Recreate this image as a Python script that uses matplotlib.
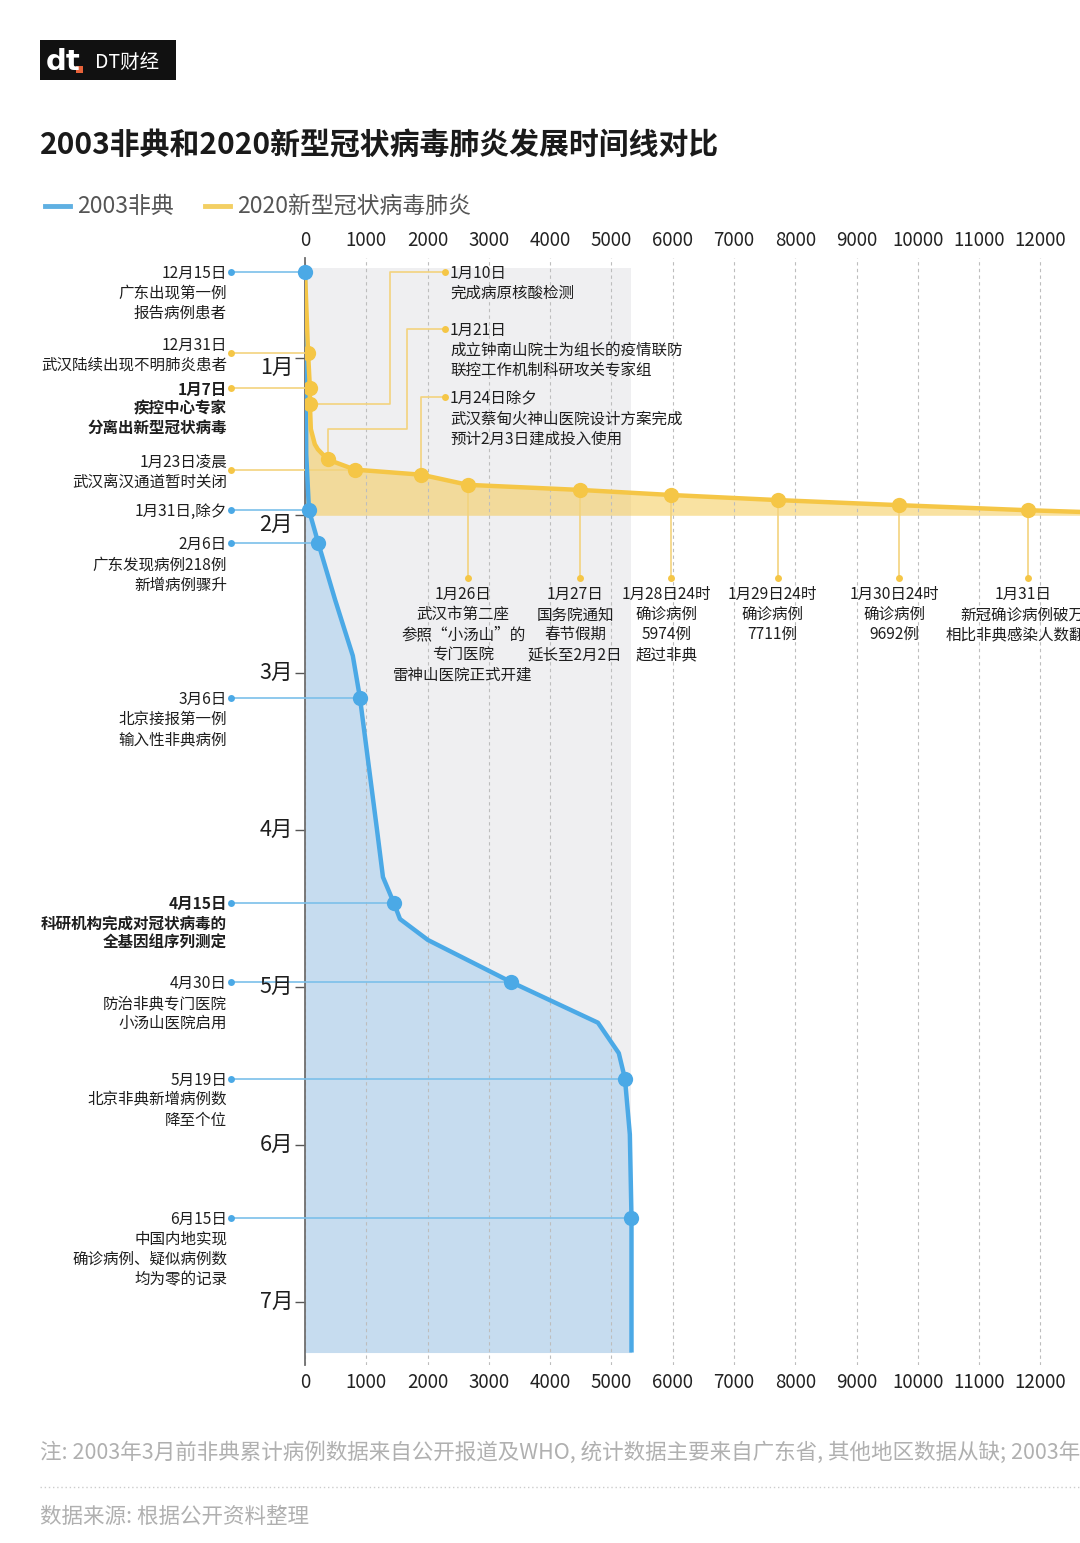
import calendar
import matplotlib
matplotlib.use('Agg')
import matplotlib.pyplot as plt
from matplotlib.patches import Rectangle
from matplotlib.lines import Line2D

plt.rcParams['font.family'] = ['Noto Sans CJK SC', 'DejaVu Sans']

# ---- 数据 ----
# 2003 非典累计病例
sars_dates = ['2002-12-15', '2003-01-20', '2003-01-31', '2003-02-06', '2003-02-16',
              '2003-02-26', '2003-03-06', '2003-04-01', '2003-04-10', '2003-04-15',
              '2003-04-18', '2003-04-22', '2003-04-30', '2003-05-08', '2003-05-14',
              '2003-05-19', '2003-05-30', '2003-06-15', '2003-07-11']
sars_cases = [0, 20, 65, 218, 490, 780, 897, 1175, 1272, 1452,
              1550, 2006, 3360, 4780, 5120, 5220, 5300, 5327, 5327]

# 2020 新型冠状病毒肺炎累计确诊
ncov_dates = ['2019-12-15', '2019-12-31', '2020-01-07', '2020-01-10', '2020-01-15',
              '2020-01-18', '2020-01-19', '2020-01-20', '2020-01-21', '2020-01-23',
              '2020-01-24', '2020-01-26', '2020-01-27', '2020-01-28', '2020-01-29',
              '2020-01-30', '2020-01-31', '2020-02-01']
ncov_cases = [0, 50, 80, 80, 95, 160, 210, 290, 370, 815,
              1900, 2660, 4490, 5974, 7711, 9692, 11791, 14380]

month_labels = ['1月', '2月', '3月', '4月', '5月', '6月', '7月']
x_ticks = list(range(0, 13000, 1000))

# 左侧事件 (非典)
sars_event_dates = ['2002-12-15', '2003-01-31', '2003-02-06', '2003-03-06',
                    '2003-04-15', '2003-04-30', '2003-05-19', '2003-06-15']
sars_event_texts = ['12月15日\n广东出现第一例\n报告病例患者',
                    '1月31日,除夕',
                    '2月6日\n广东发现病例218例\n新增病例骤升',
                    '3月6日\n北京接报第一例\n输入性非典病例',
                    '4月15日\n科研机构完成对冠状病毒的\n全基因组序列测定',
                    '4月30日\n防治非典专门医院\n小汤山医院启用',
                    '5月19日\n北京非典新增病例数\n降至个位',
                    '6月15日\n中国内地实现\n确诊病例、疑似病例数\n均为零的记录']
sars_event_bold = [False, False, False, False, True, False, False, False]

# 左侧事件 (新冠)
ncov_left_dates = ['2019-12-31', '2020-01-07', '2020-01-23']
ncov_left_texts = ['12月31日\n武汉陆续出现不明肺炎患者',
                   '1月7日\n疾控中心专家\n分离出新型冠状病毒',
                   '1月23日凌晨\n武汉离汉通道暂时关闭']
ncov_left_bold = [False, True, False]

# 上方事件 (新冠)
ncov_top_dates = ['2020-01-10', '2020-01-21', '2020-01-24']
ncov_top_texts = ['1月10日\n完成病原核酸检测',
                  '1月21日\n成立钟南山院士为组长的疫情联防\n联控工作机制科研攻关专家组',
                  '1月24日除夕\n武汉蔡甸火神山医院设计方案完成\n预计2月3日建成投入使用']

# 下方事件 (新冠)
ncov_bottom_dates = ['2020-01-26', '2020-01-27', '2020-01-28', '2020-01-29',
                     '2020-01-30', '2020-01-31']
ncov_bottom_texts = ['1月26日\n武汉市第二座\n参照“小汤山”的\n专门医院\n雷神山医院正式开建',
                     '1月27日\n国务院通知\n春节假期\n延长至2月2日',
                     '1月28日24时\n确诊病例\n5974例\n超过非典',
                     '1月29日24时\n确诊病例\n7711例',
                     '1月30日24时\n确诊病例\n9692例',
                     '1月31日\n新冠确诊病例破万\n相比非典感染人数翻倍']


def month_pos(s):
    # 12月 -> 0, 1月 -> 1 ...
    y, m, d = map(int, s.split('-'))
    idx = 0 if m == 12 else m
    return idx + (d - 1) / calendar.monthrange(y, m)[1]


sars_y = [month_pos(d) for d in sars_dates]
ncov_y = [month_pos(d) for d in ncov_dates]

BLUE = '#4ba9e6'
BLUE_FILL = '#c6dcef'
BLUE_LINE = '#7cc0ea'
YELLOW = '#f5c646'
YELLOW_LINE = '#f3d37e'
GRAY_BG = '#efeff1'
TXT = '#1e1e1e'

# 画布 (像素辅助)
W, H = 1080, 1543
X0, SX = 305, 0.06129      # x=0 的像素位置, 每例像素
Y0, SY = 358, 157.3        # 1月 的像素位置, 每月像素


def px_x(px):
    return (px - X0) / SX


def px_y(px):
    return 1 + (px - Y0) / SY


def fx(px):
    return px / W


def fy(px):
    return 1 - px / H


fig = plt.figure(figsize=(10.8, 15.43), dpi=100)
fig.patch.set_facecolor('white')

ax = fig.add_axes([fx(305), fy(1365), fx(1080) - fx(305), fy(258) - fy(1365)])
ax.set_xlim(0, px_x(1080))
ax.set_ylim(px_y(1365), px_y(258))
ax.set_facecolor('none')

# 灰色背景 (非典最大值范围)
ax.fill_betweenx([sars_y[0] - 4 / SY, sars_y[-1]], 0, max(sars_cases),
                 color=GRAY_BG, lw=0, zorder=0)

# 面积
ax.fill_betweenx(sars_y, 0, sars_cases, color=BLUE_FILL, lw=0, zorder=1)
ax.fill_betweenx(ncov_y, 0, ncov_cases, color=YELLOW, alpha=0.5, lw=0, zorder=1.1)

# 网格和刻度
ax.set_xticks(x_ticks)
ax.set_xticklabels([str(v) for v in x_ticks])
ax.grid(axis='x', color='#bdbdbd', ls=(0, (3, 3)), lw=0.8, zorder=1.5)
ax.tick_params(axis='x', top=True, labeltop=True, bottom=False, labelbottom=True,
               length=0, pad=5, labelsize=13.5, labelcolor='#222')
ax.set_yticks(range(1, 8))
ax.set_yticklabels([''] * 7)
ax.tick_params(axis='y', length=7, width=1, color='#555', direction='out')
for s in ['top', 'right', 'bottom']:
    ax.spines[s].set_visible(False)
ax.spines['left'].set_color('#6e6e6e')
ax.spines['left'].set_linewidth(1.3)
ax.spines['left'].set_zorder(2.5)

label_shift = [10, 10, 0, 0, 0, 0, 0]
for i, lab in enumerate(month_labels):
    ax.text(px_x(293), i + 1 + label_shift[i] / SY, lab, ha='right', va='center',
            fontsize=15.5, color=TXT, clip_on=False)

# 曲线
ax.plot(sars_cases, sars_y, color=BLUE, lw=3.2, zorder=3, solid_capstyle='butt')
ax.plot(ncov_cases, ncov_y, color=YELLOW, lw=3.2, zorder=3.2)

LS = 1.24
FS = 11.2


def block(x, y, text, ha, bold=False):
    ax.text(x, y - 7 / SY, text, ha=ha, va='top', fontsize=FS, color=TXT,
            linespacing=LS, fontweight='bold' if bold else 'normal',
            clip_on=False, zorder=5)


# 左侧非典事件
for d, t, b in zip(sars_event_dates, sars_event_texts, sars_event_bold):
    y = month_pos(d)
    xv = sars_cases[sars_dates.index(d)]
    ax.plot([px_x(231), xv], [y, y], color=BLUE_LINE, lw=1.2, zorder=2.6, clip_on=False)
    ax.plot([px_x(231)], [y], 'o', ms=5, color=BLUE, mec='none', zorder=4, clip_on=False)
    ax.plot([xv], [y], 'o', ms=11, color=BLUE, mec='none', zorder=4, clip_on=False)
    block(px_x(227), y, t, 'right', b)

# 左侧新冠事件
left_shift = [-9, 0, -9]
for d, t, b, sh in zip(ncov_left_dates, ncov_left_texts, ncov_left_bold, left_shift):
    y = month_pos(d)
    xv = ncov_cases[ncov_dates.index(d)]
    ax.plot([px_x(231), xv], [y, y], color=YELLOW_LINE, lw=1.2, zorder=2.6, clip_on=False)
    ax.plot([px_x(231)], [y], 'o', ms=5, color=YELLOW, mec='none', zorder=4, clip_on=False)
    ax.plot([xv], [y], 'o', ms=11, color=YELLOW, mec='none', zorder=4)
    block(px_x(227), y + sh / SY, t, 'right', b)

# 上方新冠事件 (折线引线, 像素路径)
top_paths = [[('x', 390), ('y', 272), ('x', 445)],
             [('y', 429), ('x', 407), ('y', 329), ('x', 445)],
             [('y', 397), ('x', 445)]]
for d, t, path in zip(ncov_top_dates, ncov_top_texts, top_paths):
    y = month_pos(d)
    xv = ncov_cases[ncov_dates.index(d)]
    xs, ys = [xv], [y]
    for k, v in path:
        if k == 'x':
            xs.append(px_x(v))
            ys.append(ys[-1])
        else:
            xs.append(xs[-1])
            ys.append(px_y(v))
    ax.plot(xs, ys, color=YELLOW_LINE, lw=1.2, zorder=2.6)
    ax.plot([xs[-1]], [ys[-1]], 'o', ms=5, color=YELLOW, mec='none', zorder=4)
    ax.plot([xv], [y], 'o', ms=11, color=YELLOW, mec='none', zorder=4)
    block(px_x(450), ys[-1], t, 'left')

# 下方新冠事件
for d, t in zip(ncov_bottom_dates, ncov_bottom_texts):
    y = month_pos(d)
    xv = ncov_cases[ncov_dates.index(d)]
    ax.plot([xv, xv], [y, px_y(578)], color=YELLOW_LINE, lw=1.2, zorder=2.6)
    ax.plot([xv], [px_y(578)], 'o', ms=5, color=YELLOW, mec='none', zorder=4)
    ax.plot([xv], [y], 'o', ms=11, color=YELLOW, mec='none', zorder=4)
    ax.text(xv - px_x(305 + 5), px_y(593) - 7 / SY, t, ha='center', va='top',
            fontsize=FS, color=TXT, linespacing=LS, zorder=5)

# ---- 标志、标题、图例 ----
fig.patches.append(Rectangle((fx(40), fy(80)), fx(136), 40 / H, transform=fig.transFigure,
                             facecolor='#111111', edgecolor='none'))
fig.text(fx(46), fy(62), 'dt', fontsize=21, fontweight='bold', color='white',
         family='DejaVu Sans', va='center', ha='left')
fig.patches.append(Rectangle((fx(76), fy(73)), fx(7), 7 / H, transform=fig.transFigure,
                             facecolor='#e8633a', edgecolor='none'))
fig.text(fx(95), fy(62), 'DT财经', fontsize=14, color='white', va='center', ha='left')

fig.text(fx(40), fy(145), '2003非典和2020新型冠状病毒肺炎发展时间线对比',
         fontsize=21.5, fontweight='bold', color='#1a1a1a', va='center', ha='left')

fig.add_artist(Line2D([fx(45), fx(70)], [fy(206), fy(206)], color='#5fb0e2', lw=3.5,
                      transform=fig.transFigure))
fig.text(fx(77), fy(206), '2003非典', fontsize=16.5, color='#555555', va='center')
fig.add_artist(Line2D([fx(205), fx(230)], [fy(206), fy(206)], color='#f3cf63', lw=3.5,
                      transform=fig.transFigure))
fig.text(fx(237), fy(206), '2020新型冠状病毒肺炎', fontsize=16.5, color='#555555', va='center')

# ---- 注释 ----
fig.text(fx(40), fy(1453), '注: 2003年3月前非典累计病例数据来自公开报道及WHO, 统计数据主要来自广东省, '
         '其他地区数据从缺; 2003年3月后数据来自卫生部通报',
         fontsize=15.5, color='#b0b0b0', va='center')
fig.add_artist(Line2D([fx(40), fx(1080)], [fy(1487), fy(1487)], color='#cccccc', lw=1,
                      ls=(0, (1, 2)), transform=fig.transFigure))
fig.text(fx(40), fy(1517), '数据来源: 根据公开资料整理', fontsize=15.5, color='#b0b0b0', va='center')

fig.savefig('out.png', dpi=100, facecolor='white')
